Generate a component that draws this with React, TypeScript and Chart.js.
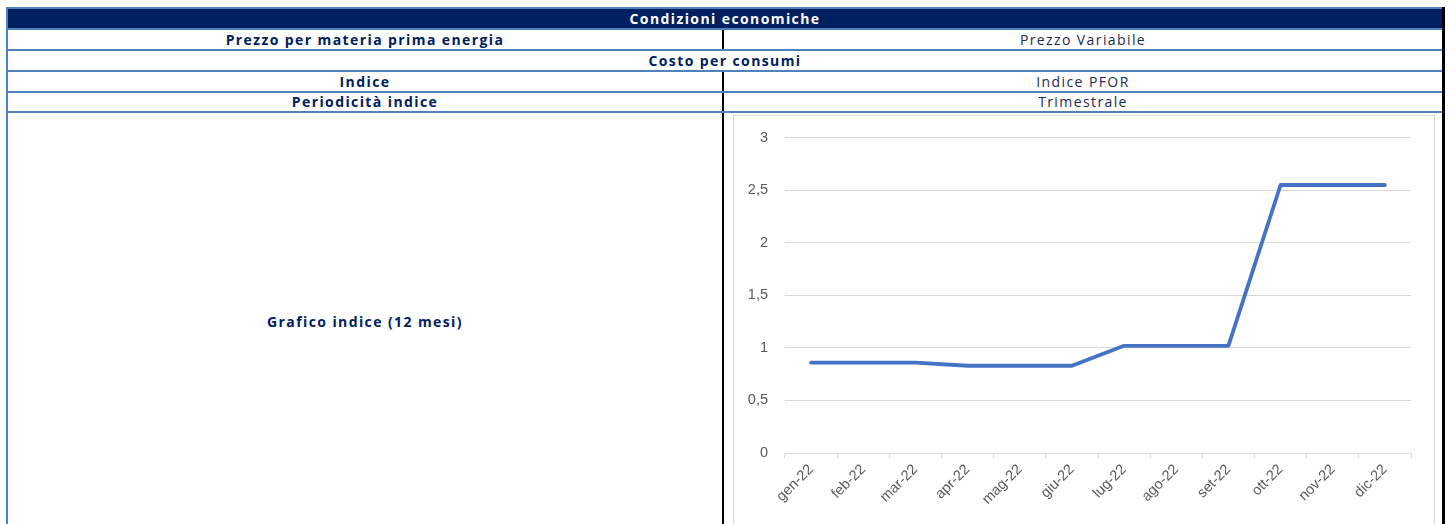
import React, { useEffect, useRef } from "react";
import { Chart, registerables } from "chart.js";

Chart.register(...registerables);

const months = ["gen-22", "feb-22", "mar-22", "apr-22", "mag-22", "giu-22", "lug-22", "ago-22", "set-22", "ott-22", "nov-22", "dic-22"];
const indexValues = [0.86, 0.86, 0.86, 0.83, 0.83, 0.83, 1.02, 1.02, 1.02, 2.55, 2.55, 2.55];
const yTicks = [0, 0.5, 1, 1.5, 2, 2.5, 3];

const rowsText = {
  header: "Condizioni economiche",
  prezzoLabel: "Prezzo per materia prima energia",
  prezzoValue: "Prezzo Variabile",
  costo: "Costo per consumi",
  indiceLabel: "Indice",
  indiceValue: "Indice PFOR",
  periodLabel: "Periodicità indice",
  periodValue: "Trimestrale",
  grafico: "Grafico indice (12 mesi)",
};

const NAVY = "#002060";
const BLUE = "#4f81bd";
const FONT = "'Open Sans', 'Noto Sans', sans-serif";
const AXIS_FONT = "'Liberation Sans', sans-serif";

const abs = (left: number, top: number, width: number, height: number, extra: React.CSSProperties = {}): React.CSSProperties => ({
  position: "absolute",
  left,
  top,
  width,
  height,
  boxSizing: "border-box",
  ...extra,
});

const textCell = (left: number, top: number, width: number, height: number, text: string, bold: boolean, color: string) => (
  <div
    style={abs(left, top, width, height, {
      display: "flex",
      alignItems: "center",
      justifyContent: "center",
      fontFamily: FONT,
      fontSize: 14,
      fontWeight: bold ? 700 : 400,
      letterSpacing: "1.4px",
      color,
      whiteSpace: "nowrap",
      lineHeight: "1",
    })}
  >
    {text}
  </div>
);

export default function App() {
  const canvasRef = useRef<HTMLCanvasElement | null>(null);

  useEffect(() => {
    if (!canvasRef.current) return;
    const chart = new Chart(canvasRef.current, {
      type: "line",
      data: {
        labels: months,
        datasets: [
          {
            data: indexValues,
            borderColor: "#4472c4",
            borderWidth: 3.8,
            pointRadius: 0,
            tension: 0,
            borderCapStyle: "round",
            borderJoinStyle: "round",
            fill: false,
          },
        ],
      },
      options: {
        animation: false,
        responsive: false,
        maintainAspectRatio: false,
        layout: { padding: { top: 16, right: 22, left: 0, bottom: 0 } },
        plugins: { legend: { display: false }, tooltip: { enabled: false } },
        scales: {
          x: {
            offset: true,
            grid: {
              offset: true,
              drawOnChartArea: false,
              drawTicks: true,
              tickLength: 5,
              color: "#d9d9d9",
            },
            border: { display: true, color: "#d9d9d9" },
            ticks: {
              minRotation: 45,
              maxRotation: 45,
              autoSkip: false,
              padding: 3,
              color: "#595959",
              font: { family: AXIS_FONT, size: 14.5 },
            },
            afterFit: (scale: any) => {
              scale.height = 83;
            },
          },
          y: {
            min: 0,
            max: 3,
            afterBuildTicks: (scale: any) => {
              scale.ticks = yTicks.map((v) => ({ value: v }));
            },
            grid: { color: "#d9d9d9", drawTicks: false },
            border: { display: false },
            ticks: {
              padding: 17,
              color: "#595959",
              font: { family: AXIS_FONT, size: 14.5 },
              callback: (v: any) => String(v).replace(".", ","),
            },
            afterFit: (scale: any) => {
              scale.width = 51;
            },
          },
        },
      },
    });
    return () => chart.destroy();
  }, []);

  const bottom = 560;

  return (
    <div style={abs(0, 0, 1450, bottom, { background: "#fff", overflow: "hidden" })}>
      {/* header */}
      <div style={abs(8, 9, 1434, 19, { background: NAVY })} />
      {textCell(8, 9, 1434, 19, rowsText.header, true, "#ffffff")}

      {/* row 1 */}
      {textCell(8, 30, 714, 19, rowsText.prezzoLabel, true, NAVY)}
      {textCell(724, 30, 718, 19, rowsText.prezzoValue, false, "#1f2a4d")}
      {/* row 2 */}
      {textCell(8, 51, 1434, 19, rowsText.costo, true, NAVY)}
      {/* row 3 */}
      {textCell(8, 72, 714, 19, rowsText.indiceLabel, true, NAVY)}
      {textCell(724, 72, 718, 19, rowsText.indiceValue, false, "#1f2a4d")}
      {/* row 4 */}
      {textCell(8, 93, 714, 18, rowsText.periodLabel, true, NAVY)}
      {textCell(724, 93, 718, 18, rowsText.periodValue, false, "#1f2a4d")}
      {/* row 5 */}
      {textCell(8, 312, 714, 20, rowsText.grafico, true, NAVY)}

      {/* chart frame */}
      <div style={abs(733, 115, 702, bottom, { border: "1px solid #d9d9d9" })} />
      <canvas
        ref={canvasRef}
        width={699}
        height={424}
        style={{ position: "absolute", left: 734, top: 112, width: 699, height: 424 }}
      />

      {/* middle dividers */}
      <div style={abs(722, 30, 2, 19, { background: "#000" })} />
      <div style={abs(722, 72, 2, bottom, { background: "#000" })} />

      {/* horizontal blue lines */}
      <div style={abs(6, 7, 1436, 2, { background: BLUE })} />
      <div style={abs(6, 28, 1436, 2, { background: BLUE })} />
      <div style={abs(6, 49, 1436, 2, { background: BLUE })} />
      <div style={abs(6, 70, 1436, 2, { background: BLUE })} />
      <div style={abs(6, 91, 1436, 2, { background: BLUE })} />
      <div style={abs(6, 111, 1436, 2, { background: BLUE })} />

      {/* outer borders */}
      <div style={abs(6, 7, 2, bottom, { background: BLUE })} />
      <div style={abs(1442, 7, 3, bottom, { background: "#000" })} />
    </div>
  );
}
